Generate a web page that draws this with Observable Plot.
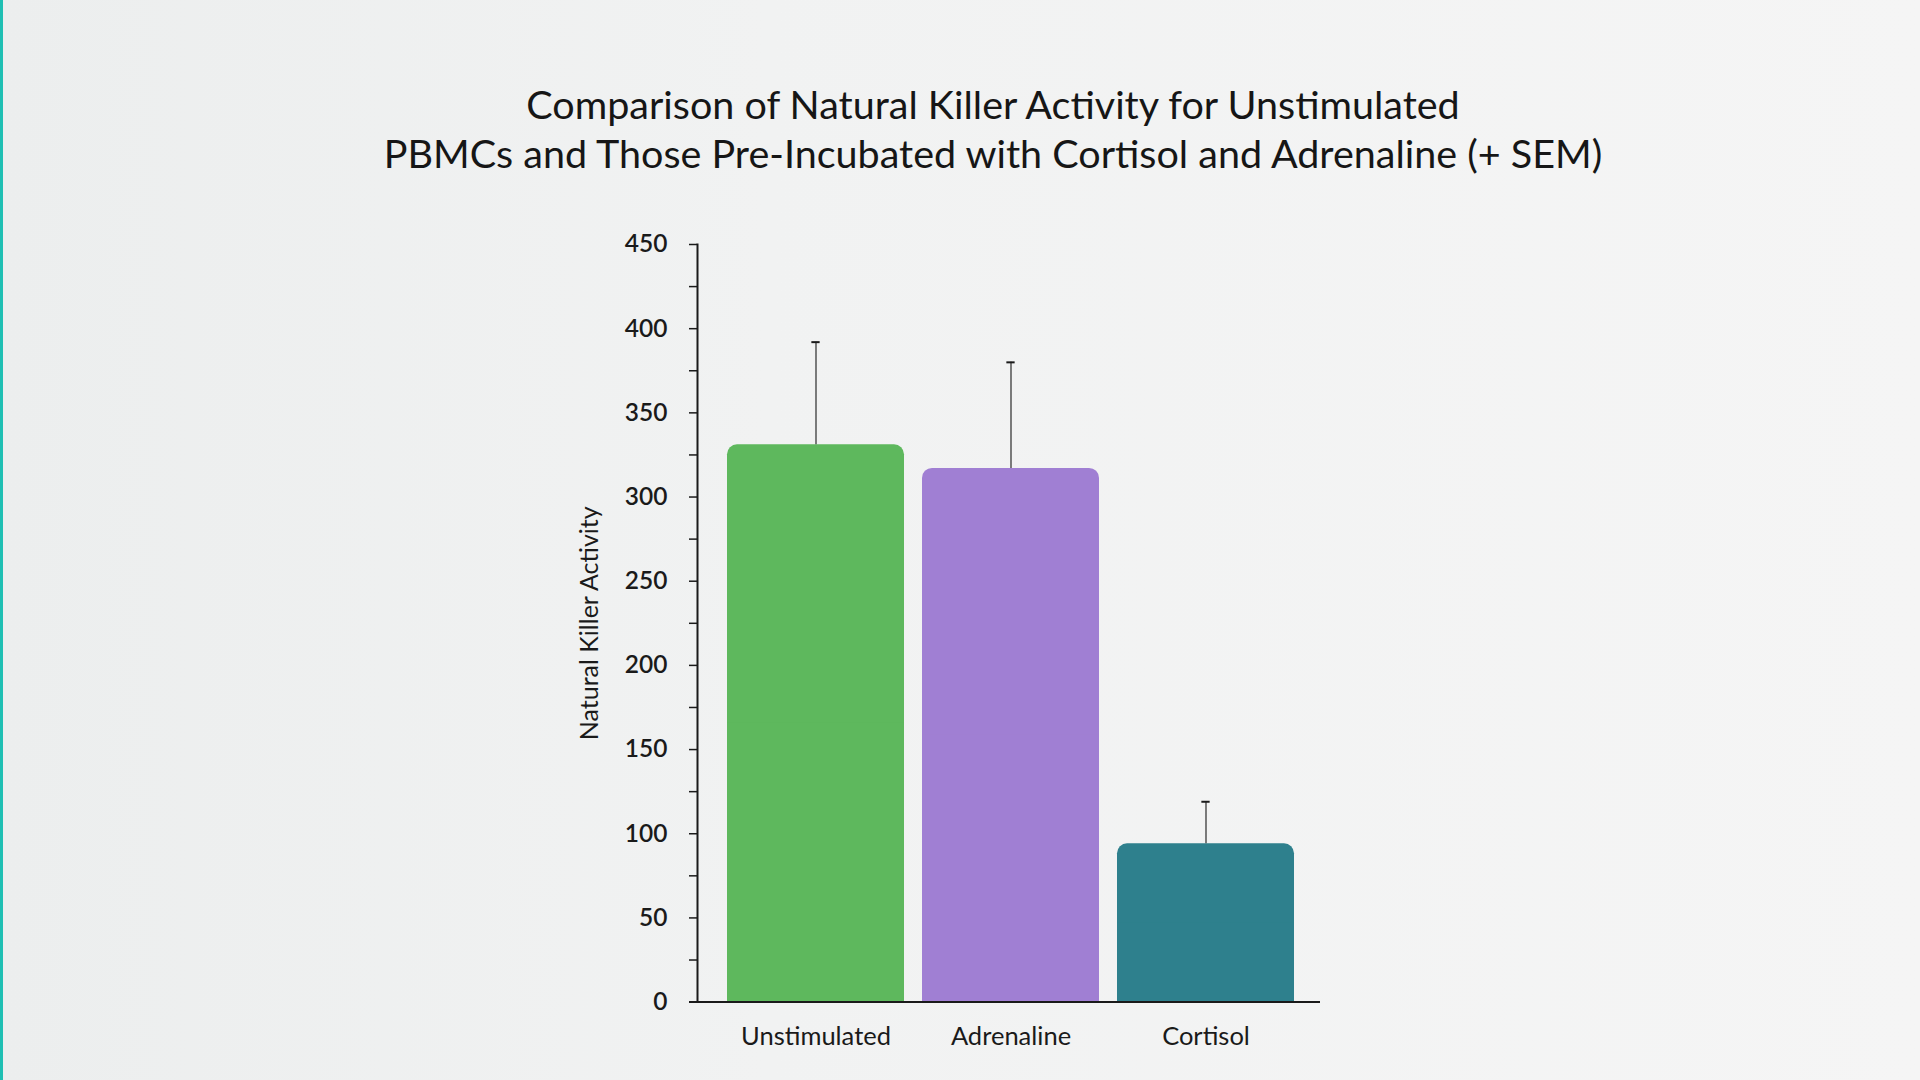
<!DOCTYPE html>
<html>
<head>
<meta charset="utf-8">
<script src="https://cdn.jsdelivr.net/npm/d3@7"></script>
<script src="https://cdn.jsdelivr.net/npm/@observablehq/plot@0.6"></script>
<style>
  html, body { margin: 0; padding: 0; }
  body {
    width: 1920px; height: 1080px; overflow: hidden; position: relative;
    background: linear-gradient(90deg, #eceeee 0%, #f1f2f2 40%, #f5f5f5 100%);
    font-family: Lato, "Open Sans", sans-serif;
  }
  #edge { position: absolute; left: 0; top: 0; width: 3px; height: 1080px; background: #1fbfb3; }
  #title {
    position: absolute; left: 66px; top: 79px; width: 1854px;
    text-align: center; font-size: 39.5px; line-height: 49px; color: #161616; font-weight: 400;
  }
  #chart { position: absolute; left: 0; top: 180px; }
</style>
</head>
<body>
<div id="edge"></div>
<div id="title">Comparison of Natural Killer Activity for Unstimulated<br>PBMCs and Those Pre-Incubated with Cortisol and Adrenaline (+ SEM)</div>
<div id="chart"></div>
<script>
const categories = ["Unstimulated", "Adrenaline", "Cortisol"];
const values = [331, 317, 94];
const sem = [61, 63, 25];
const colors = ["#5eb85d", "#a07fd3", "#2e808d"];
const majorTicks = [0, 50, 100, 150, 200, 250, 300, 350, 400, 450];
const minorTicks = [25, 75, 125, 175, 225, 275, 325, 375, 425];
const yLabel = "Natural Killer Activity";

const data = categories.map((c, i) => ({category: c, value: values[i], sem: sem[i], top: values[i] + sem[i]}));

const W = 1920, H = 880, mL = 697, mR = 600, mT = 64, mB = 58.4;
const pInner = 0.09, pOuter = 0.14;
const step = (W - mL - mR) / (categories.length - pInner + 2 * pOuter);
const bw = step * (1 - pInner);
const capW = 9;
const capInset = (bw - capW) / 2;

const chart = Plot.plot({
  width: W, height: H,
  marginLeft: mL, marginRight: mR, marginTop: mT, marginBottom: mB,
  style: {background: "transparent", fontFamily: "Lato, 'Open Sans', sans-serif", color: "#1a1a1a", overflow: "visible"},
  x: {domain: categories, paddingInner: pInner, paddingOuter: pOuter, align: 0.545, label: null},
  y: {domain: [0, 450], label: null},
  color: {domain: categories, range: colors},
  marks: [
    Plot.barY(data, {x: "category", y: "value", fill: "category", rx: 10}),
    Plot.barY(data, {x: "category", y: d => d.value / 2, fill: "category"}),
    Plot.ruleX(data, {x: "category", y1: "value", y2: "top", stroke: "#3a3a3a", strokeWidth: 1.3}),
    Plot.tickY(data, {x: "category", y: "top", stroke: "#1a1a1a", strokeWidth: 2, insetLeft: capInset, insetRight: capInset}),
    Plot.axisY(minorTicks, {tickSize: 8, tickFormat: () => "", label: null, stroke: "#1a1a1a", strokeWidth: 1.5}),
    Plot.axisY(majorTicks, {tickSize: 8, tickPadding: 22, label: null, fontSize: 24.5, fontWeight: 600, fill: "#1a1a1a", stroke: "#1a1a1a", strokeWidth: 1.5}),
    Plot.axisX({tickSize: 0, tickPadding: 25, label: null, fontSize: 25.5, fill: "#1a1a1a"}),
    Plot.text([yLabel], {frameAnchor: "left", textAnchor: "middle", rotate: -90, dx: -108, fontSize: 25, fill: "#1a1a1a", text: d => d}),
    Plot.frame({anchor: "left", stroke: "#1a1a1a", strokeWidth: 2}),
    Plot.ruleY([0], {stroke: "#1a1a1a", strokeWidth: 2, insetLeft: -8})
  ]
});
document.getElementById("chart").appendChild(chart);
</script>
</body>
</html>
